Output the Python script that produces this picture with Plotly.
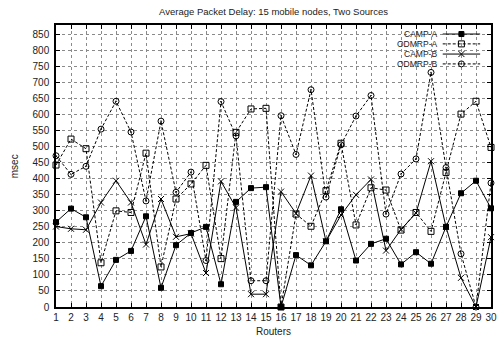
import plotly.graph_objects as go

# Average packet delay (msec) per router, 15 mobile nodes, two sources
routers = list(range(1, 31))
camp_a = [265, 307, 280, 65, 147, 175, 283, 60, 193, 231, 250, 71, 328, 371, 374,
          0, 162, 130, 205, 305, 145, 197, 213, 133, 171, 135, 250, 355, 394, 308]
odmrp_a = [443, 524, 494, 138, 300, 295, 480, 125, 337, 384, 442, 151, 545, 618, 620,
           0, 290, 252, 363, 511, 256, 372, 365, 240, 295, 236, 420, 602, 642, 498]
camp_b = [251, 244, 241, 326, 394, 326, 195, 337, 219, 229, 106, 392, 310, 40, 40,
          360, 292, 410, 205, 287, 350, 398, 176, 242, 293, 455, 250, 91, 0, 218]
odmrp_b = [472, 414, 439, 555, 642, 546, 331, 580, 358, 421, 145, 641, 534, 82, 82,
           597, 476, 678, 343, 506, 596, 660, 290, 415, 462, 732, 435, 166, 0, 387]
y_ticks = list(range(0, 851, 50))

FONT = "Liberation Sans, Arial, sans-serif"
KEY_FONT = "Liberation Sans Narrow, Arial Narrow, Liberation Sans, sans-serif"
TXT = "#222222"
DASH = "3px,2px"

series = [
    ("CAMP-A", camp_a, "solid", "square", 5),
    ("ODMRP-A", odmrp_a, DASH, "square-open", 6),
    ("CAMP-B", camp_b, "solid", "x-thin-open", 6),
    ("ODMRP-B", odmrp_b, DASH, "circle-open-dot", 6),
]

fig = go.Figure()
for name, vals, dash, sym, size in series:
    fig.add_trace(go.Scatter(
        x=routers, y=vals, name=name, mode="lines+markers",
        line=dict(color="black", width=1, dash=dash),
        marker=dict(symbol=sym, size=size, color="black",
                    line=dict(color="black", width=1)),
        cliponaxis=False, showlegend=False,
    ))

# key in the upper right corner: label, then a line sample with its marker
key_rows = [0.968, 0.933, 0.897, 0.862]
key_x0, key_xm, key_x1 = 0.889, 0.932, 0.975
key_text_x = 0.8777
for (name, vals, dash, sym, size), ry in zip(series, key_rows):
    fig.add_trace(go.Scatter(
        x=[key_x0, key_x1], y=[ry, ry], mode="lines", xaxis="x2", yaxis="y2",
        line=dict(color="black", width=1, dash=dash), showlegend=False,
        hoverinfo="skip",
    ))
    fig.add_trace(go.Scatter(
        x=[key_xm], y=[ry], mode="markers", xaxis="x2", yaxis="y2",
        marker=dict(symbol=sym, size=size, color="black",
                    line=dict(color="black", width=1)),
        showlegend=False, hoverinfo="skip", cliponaxis=False,
    ))
    fig.add_annotation(x=key_text_x, y=ry, xref="paper", yref="paper",
                       text=name, showarrow=False, xanchor="right",
                       yanchor="middle", borderpad=0,
                       font=dict(size=8.5, color=TXT, family=KEY_FONT))

# opaque key background over the grid
fig.add_shape(type="rect", xref="paper", yref="paper",
              x0=0.795, x1=0.99, y0=0.842, y1=0.985,
              fillcolor="white", line=dict(width=0), layer="between")

grid = dict(showgrid=True, gridcolor="#8a8a8a", gridwidth=1, griddash="dot")
axis_common = dict(showline=True, linecolor="black", linewidth=1.5, mirror="ticks",
                   ticks="inside", ticklen=4, tickcolor="black", tickwidth=1,
                   zeroline=False,
                   tickfont=dict(size=10, color=TXT, family=FONT), **grid)

fig.update_layout(
    width=501, height=339,
    margin=dict(l=56, r=4, t=25, b=32),
    plot_bgcolor="white", paper_bgcolor="white",
    title=dict(text="Average Packet Delay: 15 mobile nodes, Two Sources",
               x=0.5, xref="paper", xanchor="center",
               y=1 - 12 / 339, yref="container", yanchor="middle",
               font=dict(size=9.5, color=TXT, family=FONT)),
    xaxis=dict(range=[1, 30], tickmode="array", tickvals=routers,
               ticktext=[str(r) for r in routers], **axis_common),
    yaxis=dict(range=[0, 880], tickmode="array", tickvals=y_ticks,
               ticktext=[str(v) for v in y_ticks], ticklabelstandoff=3,
               **axis_common),
    xaxis2=dict(overlaying="x", range=[0, 1], visible=False),
    yaxis2=dict(overlaying="y", range=[0, 1], visible=False),
)

fig.add_annotation(x=0.5, y=-0.087, xref="paper", yref="paper", text="Routers",
                   showarrow=False, xanchor="center", yanchor="middle",
                   font=dict(size=10, color=TXT, family=FONT))
fig.add_annotation(x=-0.096, y=0.5, xref="paper", yref="paper", text="msec",
                   showarrow=False, textangle=-90, xanchor="center", yanchor="middle",
                   font=dict(size=10, color=TXT, family=FONT))

fig.write_html("out.html")
